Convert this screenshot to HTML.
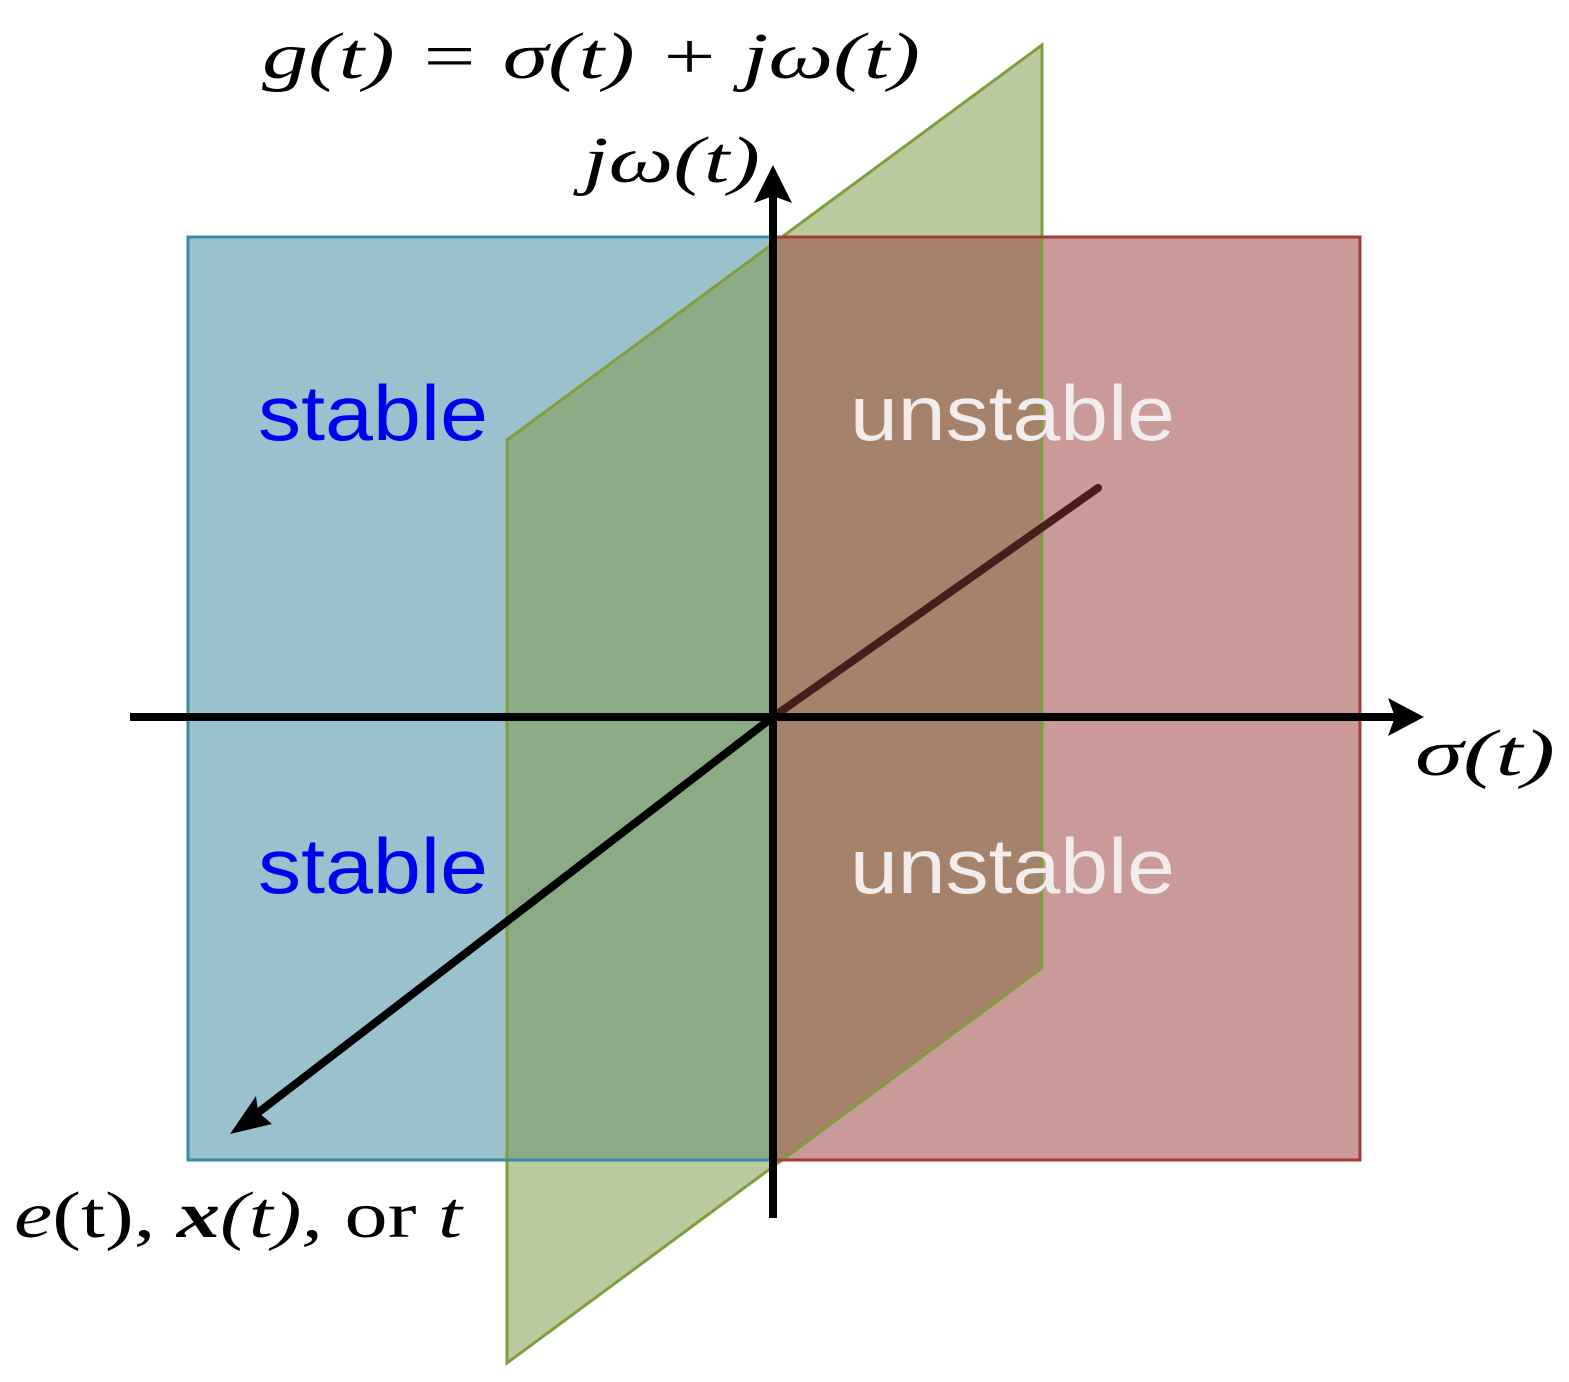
<!DOCTYPE html>
<html><head><meta charset="utf-8"><style>
html,body{margin:0;padding:0;background:#fff;}
svg{display:block;}
.m{font-family:"Liberation Serif",serif;font-style:italic;font-size:66px;fill:#000;}
.s{font-family:"Liberation Sans","DejaVu Sans",sans-serif;font-size:78px;}
</style></head><body>
<svg width="1569" height="1382" viewBox="0 0 1569 1382" xmlns="http://www.w3.org/2000/svg">
<defs>
<clipPath id="cb"><rect x="188" y="237" width="586" height="923"/></clipPath>
<clipPath id="cr"><rect x="774" y="237" width="586" height="923"/></clipPath>
</defs>
<rect x="188" y="237" width="586" height="923" fill="#9ac2ce"/>
<rect x="774" y="237" width="586" height="923" fill="#c99a97"/>
<polygon points="507,440 1042,45 1042,968 507,1363" fill="#bccb9e"/>
<polygon points="507,440 1042,45 1042,968 507,1363" fill="#8bab85" clip-path="url(#cb)"/>
<polygon points="507,440 1042,45 1042,968 507,1363" fill="#a6826a" clip-path="url(#cr)"/>
<polygon points="507,440 1042,45 1042,968 507,1363" fill="none" stroke="#7f9d3d" stroke-width="3"/>
<rect x="188" y="237" width="586" height="923" fill="none" stroke="#3d88a2" stroke-width="3"/>
<rect x="774" y="237" width="586" height="923" fill="none" stroke="#a63c38" stroke-width="3"/>
<text class="s" x="258" y="440" fill="#0000ee" textLength="230" lengthAdjust="spacingAndGlyphs">stable</text>
<text class="s" x="258" y="893" fill="#0000ee" textLength="230" lengthAdjust="spacingAndGlyphs">stable</text>
<text class="s" x="850" y="440" fill="#f2ecec" textLength="325" lengthAdjust="spacingAndGlyphs">unstable</text>
<text class="s" x="850" y="893" fill="#f2ecec" textLength="325" lengthAdjust="spacingAndGlyphs">unstable</text>
<line x1="773" y1="717" x2="1098" y2="488" stroke="#4a1c1c" stroke-width="8" stroke-linecap="round"/>
<line x1="130" y1="717" x2="1395" y2="717" stroke="#000" stroke-width="8"/>
<polygon points="1424,717 1388,698 1395,717 1388,736" fill="#000"/>
<line x1="773" y1="1218" x2="773" y2="195" stroke="#000" stroke-width="8"/>
<polygon points="773,165 754,203 773,196 792,203" fill="#000"/>
<line x1="773" y1="717" x2="255" y2="1115" stroke="#000" stroke-width="8"/>
<polygon points="230,1134 272,1124 258,1112 256,1096" fill="#000"/>
<text class="m" x="262" y="78" textLength="658" lengthAdjust="spacingAndGlyphs">g(t) = σ(t) + jω(t)</text>
<text class="m" x="583" y="182" textLength="177" lengthAdjust="spacingAndGlyphs">jω(t)</text>
<text class="m" x="1415" y="775" textLength="140" lengthAdjust="spacingAndGlyphs">σ(t)</text>
<text class="m" x="14" y="1237" textLength="448" lengthAdjust="spacingAndGlyphs">e<tspan font-style="normal">(t),</tspan> <tspan font-weight="bold">x</tspan>(t), <tspan font-style="normal">or</tspan> t</text>
</svg>
</body></html>
